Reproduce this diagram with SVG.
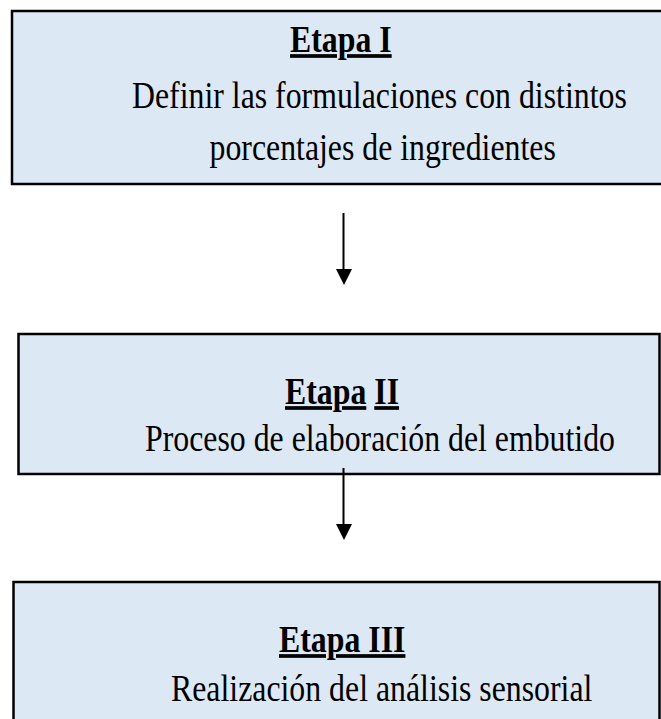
<svg xmlns="http://www.w3.org/2000/svg" width="661" height="719" viewBox="0 0 661 719">
<style>
.box{fill:#dde8f5;stroke:#000;stroke-width:2.5}
.t{font-family:"Liberation Serif","Times New Roman",serif;font-size:37px;fill:#000}
.b{font-weight:bold}
.u{text-decoration:underline}
.conn line{stroke:#000;stroke-width:2}
.conn polygon{fill:#000}
</style>
<rect width="661" height="719" fill="#fff"/>
<g id="etapa1">
<rect class="box" x="12" y="11" width="670" height="173"/>
<text class="t b u" transform="translate(290,52) scale(0.86,1)">Etapa I</text>
<text class="t" transform="translate(132,108) scale(0.86,1)">Definir las formulaciones con distintos</text>
<text class="t" transform="translate(209.5,160) scale(0.86,1)">porcentajes de ingredientes</text>
</g>
<g id="etapa2">
<rect class="box" x="18.5" y="334" width="641" height="140"/>
<text class="t b" transform="translate(285,404) scale(0.86,1)"><tspan class="u">Etapa</tspan> <tspan class="u">II</tspan></text>
<text class="t" transform="translate(145,451) scale(0.86,1)">Proceso de elaboración del embutido</text>
</g>
<g id="etapa3">
<rect class="box" x="13.5" y="582" width="646" height="150"/>
<text class="t b u" transform="translate(279,652) scale(0.86,1)">Etapa III</text>
<text class="t" transform="translate(171,701) scale(0.86,1)">Realización del análisis sensorial</text>
</g>
<g id="connectors" class="conn">
<line x1="343.5" y1="213" x2="343.5" y2="270"/>
<polygon points="336,269 352,269 344,285"/>
<line x1="343.5" y1="468" x2="343.5" y2="525"/>
<polygon points="336,524 352,524 344,540"/>
</g>
</svg>
